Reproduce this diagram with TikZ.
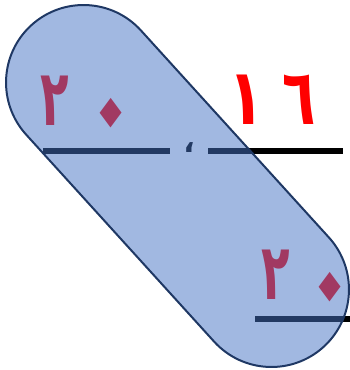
\documentclass[tikz,border=0pt]{standalone}
\usepackage{fontspec}
\newfontfamily\arabicfont[Script=Arabic]{DejaVu Sans}
\TeXXeTstate=1
\definecolor{pillblue}{HTML}{4472C4}
\definecolor{pillborder}{HTML}{1F3864}
\tikzset{
  digit/.style={font=\arabicfont\bfseries\fontsize{78}{78}\selectfont, text=red, inner sep=0pt},
  zero/.style={font=\arabicfont\bfseries\fontsize{90}{90}\selectfont, text=red, inner sep=0pt, yscale=1.35, rotate=45},
  rule/.style={line width=5.5pt, draw=black},
  pill/.style={draw=pillborder, line width=2pt, fill=pillblue, fill opacity=0.5, draw opacity=1,
    rounded corners=77.5pt, inner sep=0pt, outer sep=0pt}
}
\begin{document}
\begin{tikzpicture}[x=1pt,y=-1pt]
\useasboundingbox (0,0) rectangle (350,370);
% digits (under the translucent pill)
\node[digit] (tlTwo) at (55,100.5) {\scalebox{0.6}[1]{٢}};
\node[zero] (tlZero) at (117.1,121.6) {\makebox[0pt]{٠}};
\node[digit] (trOne) at (246.5,100) {\scalebox{0.75}[1]{١}};
\node[digit] (trSix) at (299,100) {\scalebox{0.7}[1]{٦}};
\node[digit] (brTwo) at (275.5,274.5) {\scalebox{0.6}[1]{٢}};
\node[zero] (brZero) at (336.1,295.6) {\makebox[0pt]{٠}};
% comma
\node[font=\arabicfont\bfseries\fontsize{30}{30}\selectfont, inner sep=0pt] (comma) at (189,148) {،};
% rules
\coordinate (l1a) at (43,151);
\coordinate (l1b) at (170,151);
\coordinate (l2a) at (208,151);
\coordinate (l2b) at (343,151);
\coordinate (l3a) at (255,319);
\coordinate (l3b) at (352,319);
\draw[rule] (l1a) -- (l1b);
\draw[rule] (l2a) -- (l2b);
\draw[rule] (l3a) -- (l3b);
% pill
\node[pill, rotate=-47.76, minimum width=434.6pt, minimum height=155pt] (pill) at (177.5,186) {};
\end{tikzpicture}
\end{document}
